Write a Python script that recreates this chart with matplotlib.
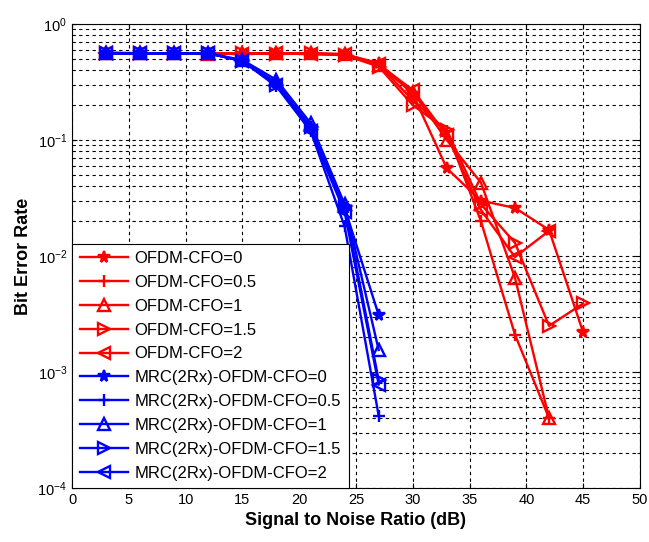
import matplotlib
matplotlib.use("Agg")
import matplotlib.pyplot as plt
from matplotlib.ticker import LogLocator, NullFormatter, MultipleLocator

plt.rcParams['font.family'] = ['Liberation Sans', 'DejaVu Sans']
plt.rcParams['mathtext.default'] = 'regular'

# SNR grid (dB)
snr = [3, 6, 9, 12, 15, 18, 21, 24, 27, 30, 33, 36, 39, 42, 45]

# Single-antenna OFDM BER for several CFO values
ofdm_cfo0 = [0.56, 0.56, 0.56, 0.56, 0.55, 0.56, 0.56, 0.55, 0.46, 0.25, 0.057, 0.030, 0.026, 0.0168, 0.0022]
ofdm_cfo05 = [0.57, 0.56, 0.56, 0.56, 0.56, 0.56, 0.55, 0.54, 0.45, 0.22, 0.12, 0.020, 0.0021, 0.0004]
ofdm_cfo1 = [0.56, 0.56, 0.56, 0.55, 0.56, 0.56, 0.56, 0.55, 0.44, 0.26, 0.10, 0.043, 0.0065, 0.0004]
ofdm_cfo15 = [0.56, 0.56, 0.56, 0.56, 0.56, 0.55, 0.56, 0.54, 0.43, 0.20, 0.122, 0.028, 0.013, 0.0025, 0.0039]
ofdm_cfo2 = [0.56, 0.56, 0.56, 0.56, 0.55, 0.56, 0.55, 0.55, 0.45, 0.27, 0.11, 0.025, 0.0098, 0.0165]

# MRC with two receive antennas
mrc_cfo0 = [0.56, 0.56, 0.56, 0.56, 0.48, 0.31, 0.13, 0.026, 0.0031]
mrc_cfo05 = [0.56, 0.56, 0.56, 0.56, 0.48, 0.29, 0.12, 0.018, 0.00042]
mrc_cfo1 = [0.56, 0.56, 0.56, 0.56, 0.49, 0.33, 0.14, 0.028, 0.00155]
mrc_cfo15 = [0.56, 0.56, 0.56, 0.56, 0.48, 0.30, 0.13, 0.027, 0.00085]
mrc_cfo2 = [0.56, 0.56, 0.56, 0.56, 0.48, 0.30, 0.12, 0.024, 0.00078]

labels = ['OFDM-CFO=0', 'OFDM-CFO=0.5', 'OFDM-CFO=1', 'OFDM-CFO=1.5', 'OFDM-CFO=2',
          'MRC(2Rx)-OFDM-CFO=0', 'MRC(2Rx)-OFDM-CFO=0.5', 'MRC(2Rx)-OFDM-CFO=1',
          'MRC(2Rx)-OFDM-CFO=1.5', 'MRC(2Rx)-OFDM-CFO=2']

fig = plt.figure(figsize=(6.49, 5.42), dpi=100)
ax = fig.add_axes([0.111, 0.0996, 0.875, 0.856])

markers = ['*', '+', '^', '>', '<']
red_series = [ofdm_cfo0, ofdm_cfo05, ofdm_cfo1, ofdm_cfo15, ofdm_cfo2]
blue_series = [mrc_cfo0, mrc_cfo05, mrc_cfo1, mrc_cfo15, mrc_cfo2]

lw = 1.7


def draw(series_list, color, names):
    for series, m, lab in zip(series_list, markers, names):
        filled = m in '*+'
        ax.semilogy(snr[:len(series)], series, color=color, lw=lw, marker=m,
                    markersize=8 if m != '*' else 8.5,
                    markerfacecolor=color if filled else 'none',
                    markeredgewidth=lw, label=lab)


draw(red_series, '#ff0000', labels[:5])
draw(blue_series, '#0000ff', labels[5:])

ax.set_xlim(0, 50)
ax.set_ylim(1e-4, 1)
ax.xaxis.set_major_locator(MultipleLocator(5))
ax.yaxis.set_major_locator(LogLocator(base=10, numticks=10))
ax.yaxis.set_minor_locator(LogLocator(base=10, subs=range(2, 10), numticks=20))
ax.yaxis.set_minor_formatter(NullFormatter())

ax.grid(True, which='major', axis='both', color='black', linestyle=(0, (3, 3)), linewidth=0.8)
ax.grid(True, which='minor', axis='y', color='black', linestyle=(0, (3, 3)), linewidth=0.8)
ax.tick_params(which='both', direction='in', top=True, right=True, labelsize=10.5)
ax.tick_params(which='minor', length=2)
for s in ax.spines.values():
    s.set_linewidth(0.8)

ax.set_xlabel('Signal to Noise Ratio (dB)', fontsize=13, fontweight='bold', labelpad=4)
ax.set_ylabel('Bit Error Rate', fontsize=13, fontweight='bold', labelpad=4)

leg = ax.legend(loc='lower left', bbox_to_anchor=(0, 0), borderaxespad=0, fontsize=12,
                handlelength=2.9, handletextpad=0.4, labelspacing=0.53, borderpad=0.45,
                fancybox=False, edgecolor='black', framealpha=1)
leg.get_frame().set_linewidth(0.8)

fig.savefig('out.png', dpi=100)
